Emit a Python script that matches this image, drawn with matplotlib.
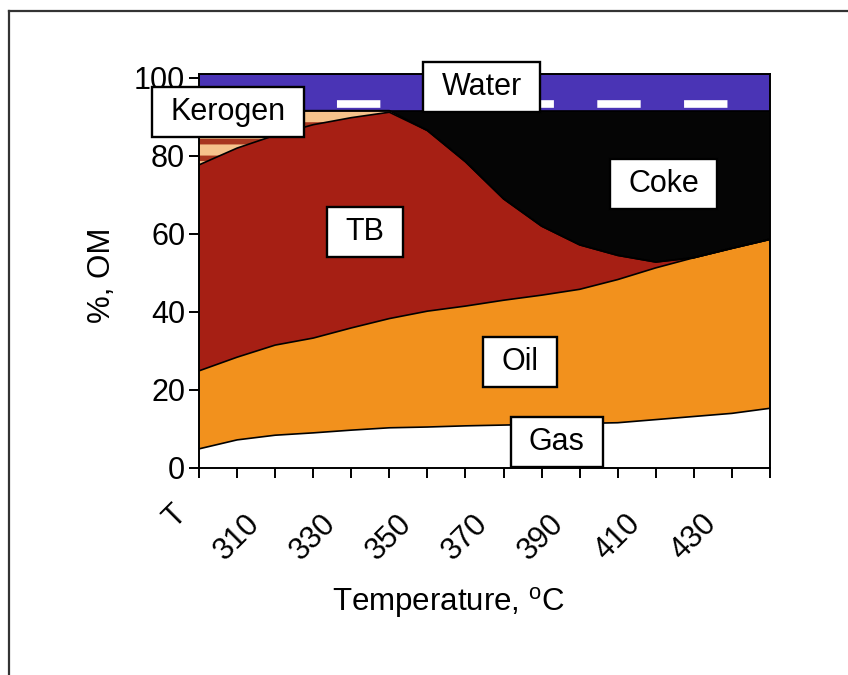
import numpy as np
import matplotlib.pyplot as plt
from matplotlib.path import Path
from matplotlib.lines import Line2D

plt.rcParams['font.family'] = ['Liberation Sans', 'DejaVu Sans']
plt.rcParams['hatch.linewidth'] = 4
plt.rcParams['hatch.color'] = '#a8361f'

# categorias del eje x (cada 10 grados) y etiquetas visibles
x_pos = np.arange(16)
x_labels = ['', '310', '', '330', '', '350', '', '370', '', '390', '', '410', '', '430', '', '']

# espesor de cada capa (% OM), de abajo hacia arriba
gas = [4.9, 7.2, 8.4, 9.0, 9.7, 10.3, 10.5, 10.8, 11.0, 11.2, 11.4, 11.6, 12.4, 13.2, 14.0, 15.3]
oil = [20.0, 21.2, 23.1, 24.3, 26.2, 28.0, 29.7, 30.7, 32.0, 33.1, 34.4, 36.7, 38.9, 40.7, 42.3, 43.3]
tb = [52.8, 53.6, 53.8, 54.7, 53.9, 52.9, 46.3, 37.0, 26.0, 17.7, 11.4, 6.2, 1.5, 0, 0, 0]
kerogen = [13.9, 9.6, 6.3, 3.6, 1.8, 0.4, 0, 0, 0, 0, 0, 0, 0, 0, 0, 0]
coke = [0, 0, 0, 0, 0, 0, 5.1, 13.1, 22.6, 29.6, 34.4, 37.1, 38.8, 37.7, 35.3, 33.0]
water = [9.4] * 16
water_mark = 93.3

layer_names = ['Gas', 'Oil', 'TB', 'Kerogen', 'Coke', 'Water']
layer_colors = ['white', '#f2911d', '#a61f14', '#f6c38c', '#050505', '#4a34b5']
# posicion de las etiquetas (x categoria, y %)
label_x = [9.40, 8.43, 4.36, 0.76, 12.21, 7.43]
label_y = [6.7, 27.2, 60.5, 91.3, 72.8, 97.7]


def wide_box(x0, y0, width, height, mutation_size):
    # caja rectangular con mas margen a los lados que arriba/abajo
    px = 0.6 * mutation_size
    py = 0.33 * mutation_size
    x0, y0 = x0 - px, y0 - py
    x1, y1 = x0 + width + 2 * px, y0 + height + 2 * py
    return Path([(x0, y0), (x1, y0), (x1, y1), (x0, y1), (x0, y0)], closed=True)


fig = plt.figure(figsize=(8.48, 6.75), dpi=100)
ax = fig.add_axes([0.2347, 0.3067, 0.6733, 0.5837])

layers = [gas, oil, tb, kerogen, coke, water]
polys = ax.stackplot(x_pos, *layers, colors=layer_colors, linewidth=0)
polys[3].set_hatch('-')
polys[3].set_edgecolor('#a8361f')

# lineas negras entre capas
tops = np.cumsum(layers, axis=0)
for top in tops:
    ax.plot(x_pos, top, color='black', lw=1.2)

# trazos blancos dentro del agua
ax.axhline(water_mark, color='white', lw=5.5, ls=(4.66, (5.68, 5.68)))

for name, lx, ly in zip(layer_names, label_x, label_y):
    ax.text(lx, ly, name, ha='center', va='center', fontsize=22, zorder=6,
            bbox=dict(boxstyle=wide_box, fc='white', ec='black', lw=1.7))

ax.set_xlim(0, 15)
ax.set_ylim(0, 101)
ax.set_yticks([0, 20, 40, 60, 80, 100])
ax.set_xticks(x_pos)
ax.set_xticklabels(x_labels, rotation=45, ha='center')
ax.tick_params(axis='x', length=7, width=1.4, pad=22, labelsize=22)
ax.tick_params(axis='y', length=7, width=1.4, pad=3, labelsize=22)
ax.text(-0.63, -0.124, 'T', rotation=45, ha='center', va='center', fontsize=22,
        transform=ax.get_xaxis_transform())
for s in ax.spines.values():
    s.set_linewidth(1.4)

ax.set_xlabel(r'Temperature, $^{\mathregular{o}}$C', fontsize=22.5)
ax.set_ylabel('%, OM', fontsize=22.5)
ax.xaxis.set_label_coords(0.436, -0.297)
ax.yaxis.set_label_coords(-0.143, 0.49)

# marco de la figura (solo arriba e izquierda)
fig.add_artist(Line2D([0.0106, 1], [0.9844, 0.9844], color='#333333', lw=1.6, transform=fig.transFigure))
fig.add_artist(Line2D([0.0106, 0.0106], [0, 0.9844], color='#333333', lw=1.6, transform=fig.transFigure))

plt.savefig('out.png')
plt.close()
